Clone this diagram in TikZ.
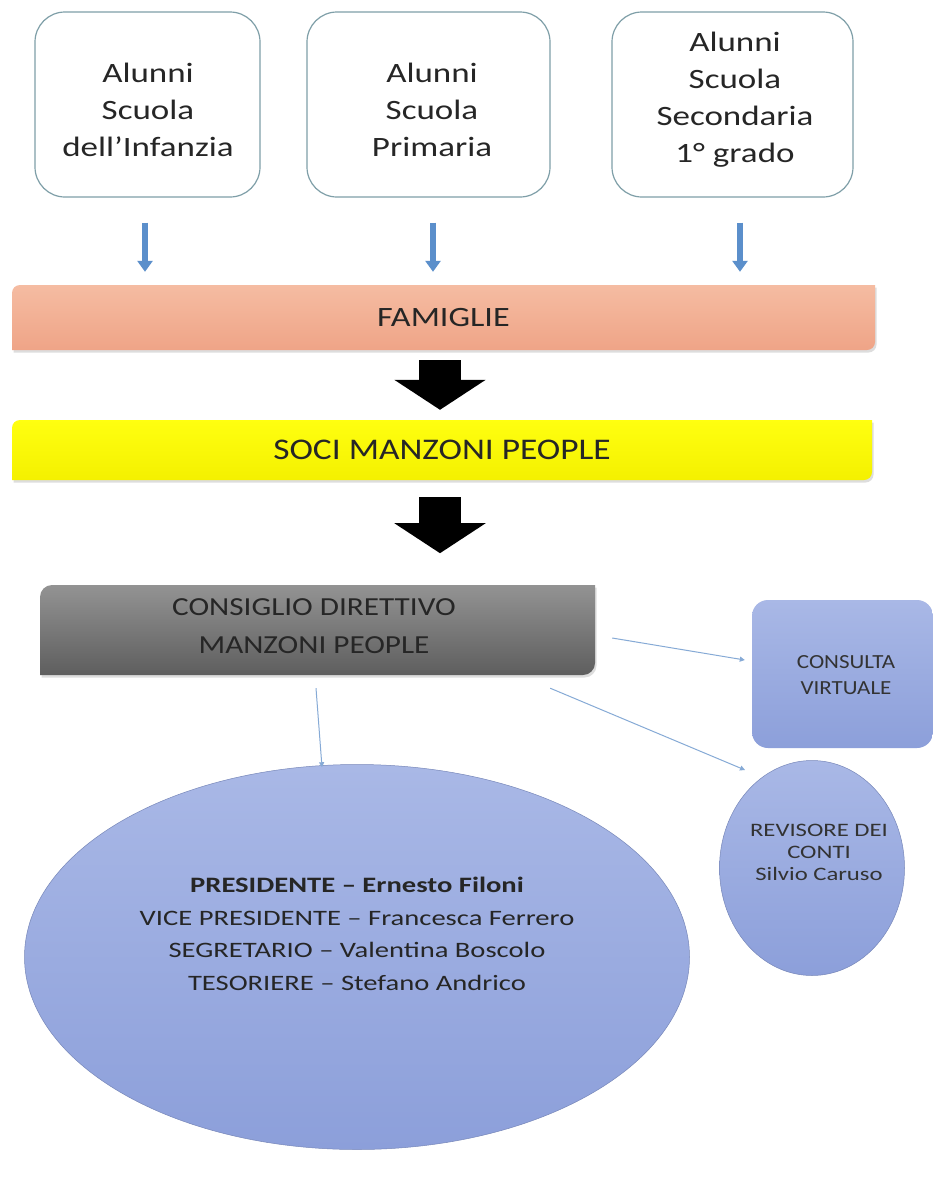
\documentclass[tikz,border=0pt]{standalone}
\usepackage{fontspec}
\usepackage{graphicx}
\setmainfont{Carlito}
\usetikzlibrary{arrows.meta,calc,shapes.geometric,shadows}
\definecolor{boxline}{HTML}{7F9FA8}
\definecolor{bluearr}{HTML}{5B8FCB}
\definecolor{salmonA}{HTML}{F5BCA2}
\definecolor{salmonB}{HTML}{EFA487}
\definecolor{yelA}{HTML}{FFFF10}
\definecolor{yelB}{HTML}{F4F000}
\definecolor{grayA}{HTML}{939393}
\definecolor{grayB}{HTML}{5E5E5E}
\definecolor{purA}{HTML}{A9B8E6}
\definecolor{purB}{HTML}{8C9FDA}
\definecolor{thinblue}{HTML}{86AAD6}
\newcommand\wx[2]{\scalebox{#1}[1]{#2}}
\newcommand\diagbox[2]{% node name, radius
  \path[fill=none] (#1.north) [sharp corners] -- (#1.north east) -- (#1.east)
    [rounded corners=#2] -- (#1.south east) -- (#1.south)
    [sharp corners] -- (#1.south west) -- (#1.west)
    [rounded corners=#2] -- (#1.north west) -- cycle;}
\tikzset{
  topbox/.style={draw=boxline, line width=1.2pt, rounded corners=30pt, fill=white,
    minimum height=185pt, inner sep=0pt},
  toptext/.style={align=center, inner sep=0pt, font=\fontsize{28}{37}\selectfont, text=black!85},
  bar/.style={inner sep=0pt, align=center},
  softshadow/.style={drop shadow={shadow xshift=1.5pt, shadow yshift=-2.5pt, opacity=0.22, fill=black!60}},
  bluedown/.style={bluearr, line width=5.5pt, -{Triangle[width=15pt,length=11pt]}},
  blackdown/.style={black, line width=42pt, -{Triangle[width=90pt,length=30pt]}},
  thinarrow/.style={thinblue, line width=1pt, -{Triangle[width=5pt,length=5pt]}},
  blob/.style={ellipse, draw=purB!85!black, line width=0.5pt, top color=purA, bottom color=purB,
    inner sep=0pt, align=center}
}
\begin{document}
\begin{tikzpicture}[x=1pt,y=-1pt]
\fill[white] (0,0) rectangle (933,1178);
\useasboundingbox (0,0) rectangle (933,1178);

\node[topbox, minimum width=225pt] (b1) at (147.5,104.5) {};
\node[topbox, minimum width=243pt] (b2) at (428.5,104.5) {};
\node[topbox, minimum width=241pt] (b3) at (732.5,104.5) {};
\node[toptext] (t1) at (148,110) {\wx{1.25}{Alunni}\\\wx{1.25}{Scuola}\\\wx{1.25}{dell’Infanzia}};
\node[toptext] (t2) at (432,110) {\wx{1.25}{Alunni}\\\wx{1.25}{Scuola}\\\wx{1.25}{Primaria}};
\node[toptext] (t3) at (735,100) {\wx{1.25}{Alunni}\\\wx{1.25}{Scuola}\\\wx{1.25}{Secondaria}\\\wx{1.25}{1° grado}};

% FAMIGLIE bar
\coordinate (famc) at (443.5,317.5);
\path[softshadow, top color=salmonA, bottom color=salmonB]
  ($(famc)+(0,-32.5)$) [sharp corners] -- ($(famc)+(431.5,-32.5)$) -- ($(famc)+(431.5,0)$)
  [rounded corners=8pt] -- ($(famc)+(431.5,32.5)$) -- ($(famc)+(0,32.5)$)
  [sharp corners] -- ($(famc)+(-431.5,32.5)$) -- ($(famc)+(-431.5,0)$)
  [rounded corners=8pt] -- ($(famc)+(-431.5,-32.5)$) -- cycle;
\node[bar, minimum width=863pt, minimum height=65pt,
  font=\fontsize{28}{30}\selectfont, text=black!85] (fam) at (famc) {\wx{1.22}{FAMIGLIE}};

% SOCI bar
\coordinate (socic) at (442,450);
\path[softshadow, top color=yelA, bottom color=yelB]
  ($(socic)+(0,-30)$) [sharp corners] -- ($(socic)+(430,-30)$) -- ($(socic)+(430,0)$)
  [rounded corners=8pt] -- ($(socic)+(430,30)$) -- ($(socic)+(0,30)$)
  [sharp corners] -- ($(socic)+(-430,30)$) -- ($(socic)+(-430,0)$)
  [rounded corners=8pt] -- ($(socic)+(-430,-30)$) -- cycle;
\node[bar, minimum width=860pt, minimum height=60pt,
  font=\fontsize{30}{32}\selectfont, text=black!85] (soci) at (socic) {\wx{1.18}{SOCI MANZONI PEOPLE}};

\draw[bluedown] ($(b1.south)+(-2.5,25)$) -- ($(fam.north)+(-298.5,-13)$);
\draw[bluedown] ($(b2.south)+(4.5,25)$) -- ($(fam.north)+(-10.5,-13)$);
\draw[bluedown] ($(b3.south)+(7.5,25)$) -- ($(fam.north)+(296.5,-13)$);

\draw[blackdown] ($(fam.south)+(-3.5,10)$) -- ($(soci.north)+(-2,-10)$);
\draw[blackdown] ($(soci.south)+(-2,17)$) -- ($(soci.south)+(-2,73)$) coordinate (bk2);

% CONSIGLIO box
\coordinate (consc) at (317.5,630);
\path[softshadow, top color=grayA, bottom color=grayB]
  ($(consc)+(0,-45)$) [sharp corners] -- ($(consc)+(277.5,-45)$) -- ($(consc)+(277.5,0)$)
  [rounded corners=12pt] -- ($(consc)+(277.5,45)$) -- ($(consc)+(0,45)$)
  [sharp corners] -- ($(consc)+(-277.5,45)$) -- ($(consc)+(-277.5,0)$)
  [rounded corners=12pt] -- ($(consc)+(-277.5,-45)$) -- cycle;
\node[bar, minimum width=555pt, minimum height=90pt] (cons) at (consc) {};
\node[font=\fontsize{26}{38}\selectfont, align=center, text=black!85, inner sep=0pt] (constext) at (314,626)
  {\wx{1.2}{CONSIGLIO DIRETTIVO}\\\wx{1.2}{MANZONI PEOPLE}};

\node[bar, rounded corners=16pt, top color=purA, bottom color=purB, minimum width=181pt, minimum height=148pt] (consulta) at (842.5,674) {};
\node[font=\fontsize{20}{26}\selectfont, align=center, text=black!80, inner sep=0pt] (consultatext) at (846,675)
  {\wx{1.15}{CONSULTA}\\\wx{1.15}{VIRTUALE}};

\node[blob, minimum width=665pt, minimum height=385pt] (big) at (357,957) {};
\node[font=\fontsize{22}{32.5}\selectfont, align=center, text=black!85, inner sep=0pt] (bigtext) at (357,934)
  {\wx{1.3}{\textbf{PRESIDENTE – Ernesto Filoni}}\\\wx{1.3}{VICE PRESIDENTE – Francesca Ferrero}\\\wx{1.3}{SEGRETARIO – Valentina Boscolo}\\\wx{1.3}{TESORIERE – Stefano Andrico}};

\node[blob, minimum width=185pt, minimum height=215pt] (rev) at (812,868) {};
\node[font=\fontsize{19}{22}\selectfont, align=center, text=black!80, inner sep=0pt] (revtext) at (819,852)
  {\wx{1.3}{REVISORE DEI}\\\wx{1.3}{CONTI}\\\wx{1.3}{Silvio Caruso}};

\draw[thinarrow] ($(cons.east)+(17,8)$) -- ($(consulta.west)+(-7,-14)$);
\draw[thinarrow] ($(cons.south east)+(-45,13)$) -- ($(rev.center)+(-67,-98)$);
\draw[thinarrow] ($(cons.south)+(-1.5,13)$) -- ($(big.north)+(-35,3)$);
\end{tikzpicture}
\end{document}
